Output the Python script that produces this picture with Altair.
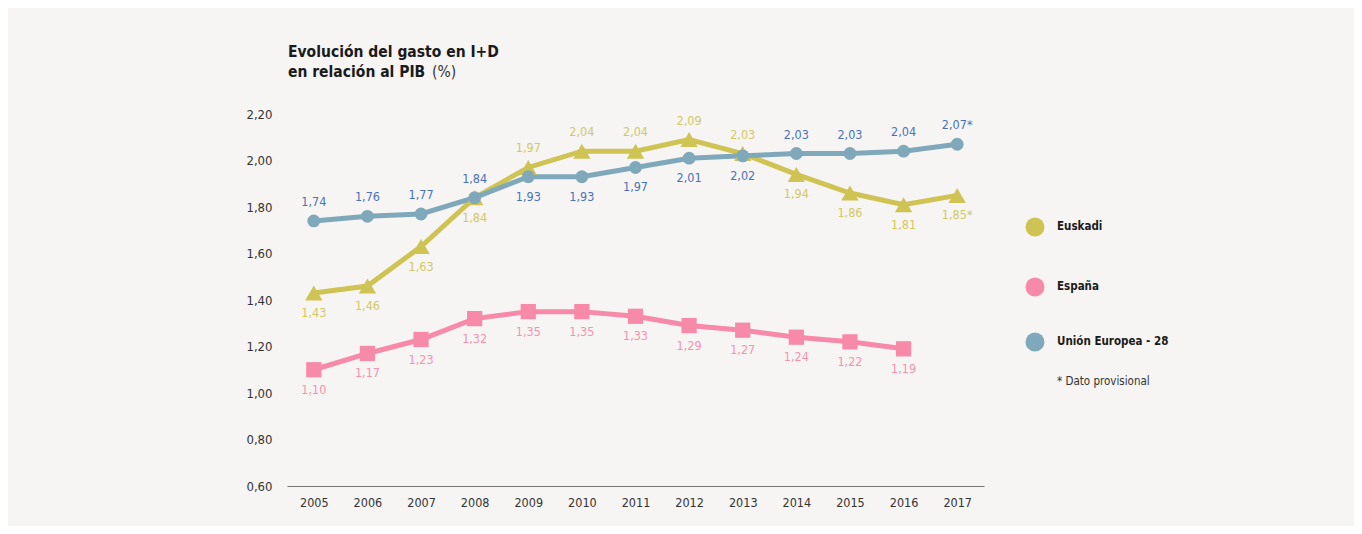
import altair as alt
import pandas as pd

years = [2005, 2006, 2007, 2008, 2009, 2010, 2011, 2012, 2013, 2014, 2015, 2016, 2017]
euskadi = [1.43, 1.46, 1.63, 1.84, 1.97, 2.04, 2.04, 2.09, 2.03, 1.94, 1.86, 1.81, 1.85]
espana = [1.10, 1.17, 1.23, 1.32, 1.35, 1.35, 1.33, 1.29, 1.27, 1.24, 1.22, 1.19, None]
ue28 = [1.74, 1.76, 1.77, 1.84, 1.93, 1.93, 1.97, 2.01, 2.02, 2.03, 2.03, 2.04, 2.07]
series_names = ["Euskadi", "España", "Unión Europea - 28"]
provisional_years = [2017]
y_ticks = [0.6, 0.8, 1.0, 1.2, 1.4, 1.6, 1.8, 2.0, 2.2]

line_colors = ["#cec353", "#f78aa8", "#7fa8ba"]
label_colors = ["#d2c862", "#f592b0", "#4a72b8"]
shapes = ["triangle-up", "square", "circle"]
sizes = [300, 165, 200]

rows = []
for i, y in enumerate(years):
    vals = {"Euskadi": euskadi[i], "España": espana[i], "Unión Europea - 28": ue28[i]}
    for s in series_names:
        v = vals[s]
        if v is None:
            continue
        if s == "España":
            above = False
        elif s == "Euskadi":
            above = euskadi[i] > ue28[i]
        else:
            above = ue28[i] >= euskadi[i]
        lab = f"{v:.2f}".replace(".", ",") + ("*" if y in provisional_years else "")
        rows.append({"year": y, "series": s, "lseries": s, "value": v, "label": lab, "above": above})
df = pd.DataFrame(rows)

FONT = "DejaVu Sans Condensed, Roboto Condensed, Roboto, sans-serif"
W, H = 697, 372

x = alt.X("year:Q", scale=alt.Scale(domain=[2004.5, 2017.5], nice=False, zero=False),
          axis=alt.Axis(values=years, format="d", grid=False, ticks=False, domain=True,
                        domainColor="#777777", domainWidth=1.2, labelPadding=10,
                        labelFontSize=12.5, labelColor="#333333", labelFont=FONT, title=None))
y = alt.Y("value:Q", scale=alt.Scale(domain=[0.6, 2.2], nice=False, zero=False),
          axis=alt.Axis(values=y_ticks, format=".2f", labelExpr="replace(datum.label, '.', ',')",
                        grid=False, ticks=False, domain=False, labelPadding=15,
                        labelFontSize=13, labelColor="#333333", labelFont=FONT, title=None))

color = alt.Color("series:N", scale=alt.Scale(domain=series_names, range=line_colors), legend=None)

lines = alt.Chart(df).mark_line(strokeWidth=5).encode(x=x, y=y, color=color)
points = alt.Chart(df).mark_point(filled=True, opacity=1).encode(
    x=x, y=y, color=color,
    shape=alt.Shape("series:N", scale=alt.Scale(domain=series_names, range=shapes), legend=None),
    size=alt.Size("series:N", scale=alt.Scale(domain=series_names, range=sizes), legend=None),
)
tcolor = alt.Color("lseries:N", scale=alt.Scale(domain=series_names, range=label_colors), legend=None)
labels_above = alt.Chart(df).transform_filter("datum.above").mark_text(
    dy=-19, fontSize=12.5, font=FONT).encode(x=x, y=y, text="label:N", color=tcolor)
labels_below = alt.Chart(df).transform_filter("!datum.above").mark_text(
    dy=20, fontSize=12.5, font=FONT).encode(x=x, y=y, text="label:N", color=tcolor)
labels = alt.layer(labels_above, labels_below)

base = alt.layer(lines, points)

# Title
t1 = alt.Chart(pd.DataFrame({"t": ["Evolución del gasto en I+D"]})).mark_text(
    align="left", baseline="alphabetic", fontSize=15.5, fontWeight="bold", font=FONT, color="#1a1a1a"
).encode(x=alt.value(1), y=alt.value(-57), text="t:N")
t2 = alt.Chart(pd.DataFrame({"t": ["en relación al PIB"]})).mark_text(
    align="left", baseline="alphabetic", fontSize=15.5, fontWeight="bold", font=FONT, color="#1a1a1a"
).encode(x=alt.value(1), y=alt.value(-37), text="t:N")
t3 = alt.Chart(pd.DataFrame({"t": ["(%)"]})).mark_text(
    align="left", baseline="alphabetic", fontSize=15.5, fontWeight="normal", font=FONT, color="#333333"
).encode(x=alt.value(145), y=alt.value(-37), text="t:N")

# Legend
legend_layers = []
leg_y = [113, 173, 228]
for name, col, ly in zip(series_names, line_colors, leg_y):
    d = pd.DataFrame({"t": [name]})
    legend_layers.append(alt.Chart(d).mark_point(filled=True, opacity=1, size=360, color=col, shape="circle")
                         .encode(x=alt.value(748), y=alt.value(ly)))
    legend_layers.append(alt.Chart(d).mark_text(align="left", baseline="middle", fontSize=11.5,
                                                fontWeight="bold", font=FONT, color="#1a1a1a")
                         .encode(x=alt.value(770), y=alt.value(ly), text="t:N"))
note = alt.Chart(pd.DataFrame({"t": ["* Dato provisional"]})).mark_text(
    align="left", baseline="middle", fontSize=11.5, font=FONT, color="#333333"
).encode(x=alt.value(770), y=alt.value(268), text="t:N")

chart = alt.layer(base, labels, t1, t2, t3, *legend_layers, note).resolve_scale(
    color="independent"
).properties(
    width=W, height=H,
    background="#f6f5f3",
    padding={"left": 279, "top": 106, "right": 370, "bottom": 40},
    autosize=alt.AutoSizeParams(type="none"),
).configure_view(stroke=None)

chart.save("out.html", embed_options={"renderer": "svg", "actions": False})
